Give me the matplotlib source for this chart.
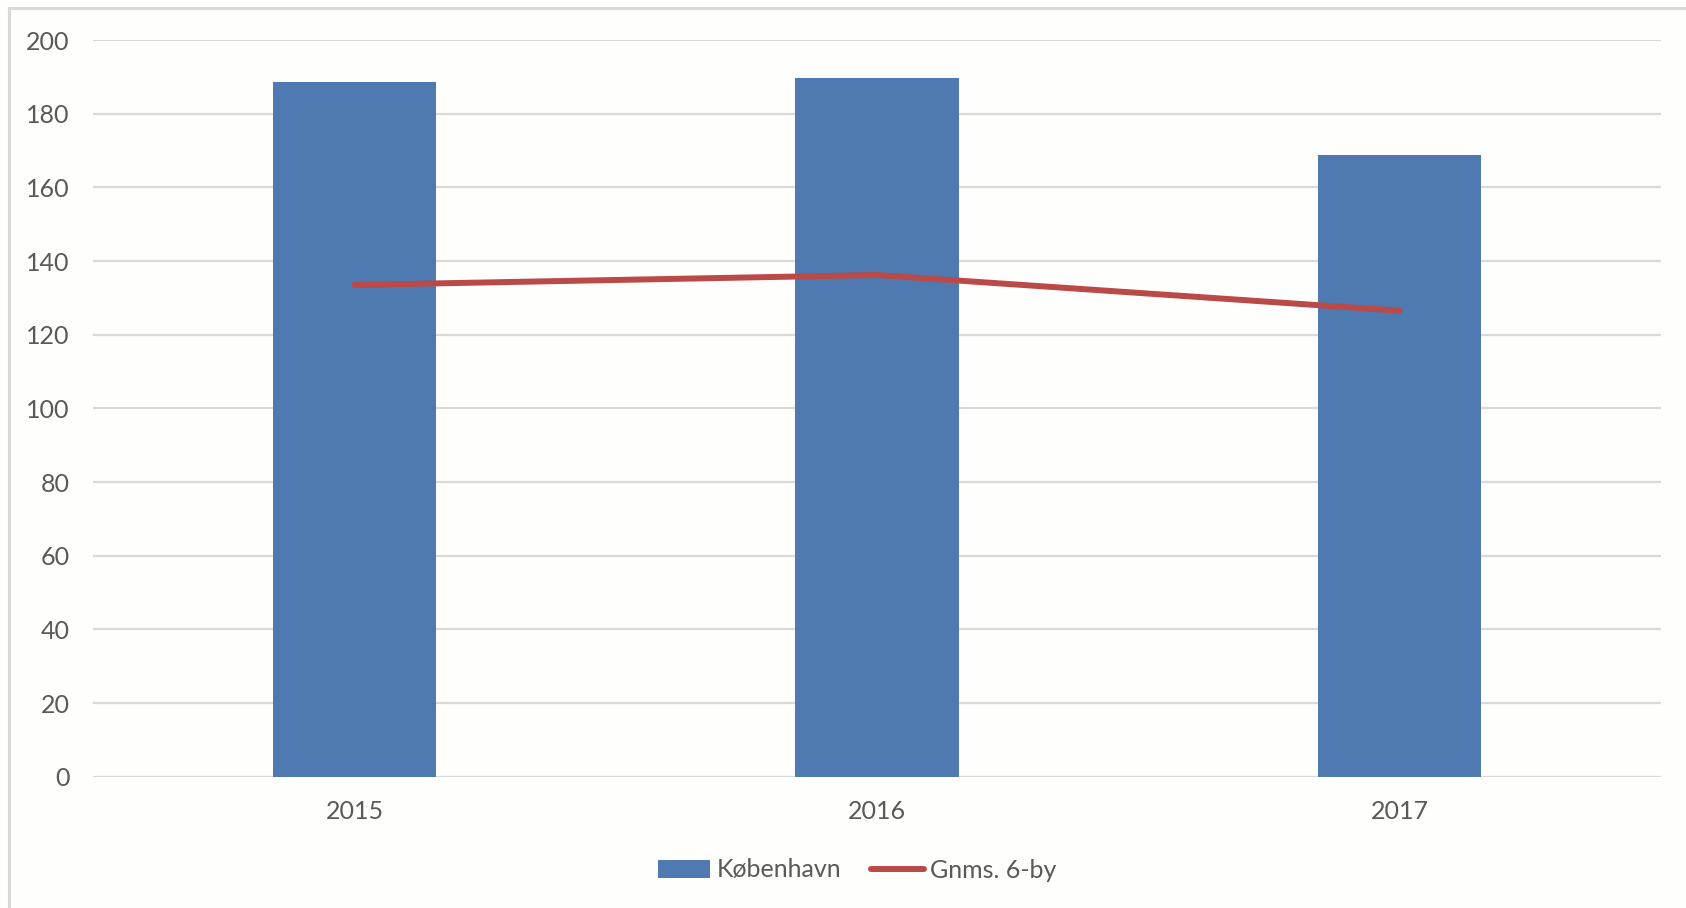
import matplotlib
matplotlib.use("Agg")
import matplotlib.pyplot as plt
from matplotlib.lines import Line2D

years = ["2015", "2016", "2017"]
kobenhavn = [188.7, 189.8, 168.8]
gnms_6by = [133.5, 136.2, 126.5]
y_ticks = [0, 20, 40, 60, 80, 100, 120, 140, 160, 180, 200]

W, H = 1686, 908
plt.rcParams['font.family'] = ['Lato', 'DejaVu Sans']
text_color = '#595959'
grid_color = '#D9D9D9'
blue = '#4E7AB1'
red = '#B94A48'

fig = plt.figure(figsize=(W / 100, H / 100), dpi=100)
fig.patch.set_facecolor('#FEFEFD')

# outer chart frame (left and top visible)
fig.add_artist(Line2D([9 / W, 9 / W], [0, 1 - 8 / H], transform=fig.transFigure,
                      color=grid_color, lw=2.2))
fig.add_artist(Line2D([9 / W, 1], [1 - 8 / H, 1 - 8 / H], transform=fig.transFigure,
                      color=grid_color, lw=2.2))

left, right = 93.3 / W, 1660.7 / W
top, bottom = 1 - 40 / H, 1 - 776.7 / H
ax = fig.add_axes([left, bottom, right - left, top - bottom])
ax.set_facecolor('none')

x = list(range(len(years)))
bars = ax.bar(x, kobenhavn, width=0.313, color=blue, label='København', zorder=2)
line, = ax.plot(x, gnms_6by, color=red, lw=4.3, solid_capstyle='round', label='Gnms. 6-by', zorder=3)

ax.set_xlim(-0.5, len(years) - 0.5)
ax.set_ylim(0, 200)
ax.set_yticks(y_ticks)
ax.set_xticks(x)
ax.set_xticklabels(years)
for s in ax.spines.values():
    s.set_visible(False)
ax.grid(axis='y', color=grid_color, lw=1.6, zorder=0)
ax.set_axisbelow(True)
ax.tick_params(axis='both', length=0, colors=text_color, labelsize=18)
ax.tick_params(axis='y', pad=17)
ax.tick_params(axis='x', pad=17)

fig.legend([bars, line], ['København', 'Gnms. 6-by'], loc='center',
           bbox_to_anchor=(857 / W, 1 - 870 / H), ncol=2, frameon=False,
           fontsize=18, handlelength=2.1, handletextpad=0.25, columnspacing=1.2,
           labelcolor=text_color)

fig.savefig('out.png', dpi=100, facecolor=fig.get_facecolor())
